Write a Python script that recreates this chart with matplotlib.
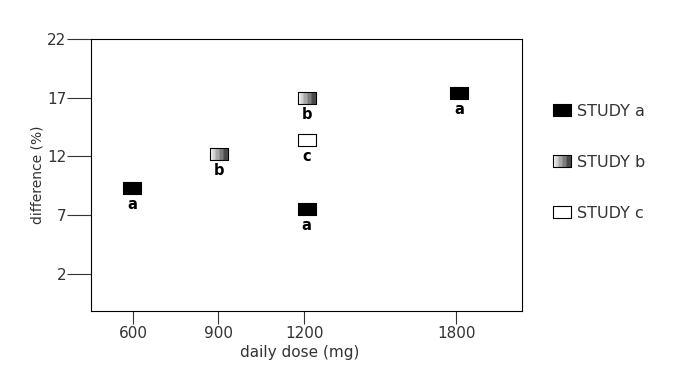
import numpy as np
import matplotlib
matplotlib.use("Agg")
import matplotlib.pyplot as plt
from matplotlib.path import Path
from matplotlib.legend_handler import HandlerTuple

plt.rcParams['font.family'] = ['DejaVu Sans']

# data
study_a_dose = [598, 1210, 1812]
study_a_diff = [9.3, 7.5, 17.4]
study_b_dose = [903, 1210]
study_b_diff = [12.2, 17.0]
study_c_dose = [1210]
study_c_diff = [13.4]

x_ticks = [600, 900, 1200, 1800]
y_ticks = [2, 7, 12, 17, 22]

# the dose axis in the original is not evenly spaced: piecewise linear scale
scale_dose = [300, 600, 900, 1200, 1800, 2400]
scale_pos = [48, 133, 218, 304, 456, 608]


def fwd(x):
    return np.interp(x, scale_dose, scale_pos)


def inv(p):
    return np.interp(p, scale_pos, scale_dose)


W, H = 1.0, 0.68


def rect_marker(x_right=W):
    verts = [(-W, -H), (x_right, -H), (x_right, H), (-W, H), (-W, -H)]
    codes = [Path.MOVETO, Path.LINETO, Path.LINETO, Path.LINETO, Path.CLOSEPOLY]
    return Path(verts, codes)


# grey shading layers for study b, dark on the right to light on the left
b_layers = [(W, '#4a4a4a'), (0.45, '#7d7d7d'), (0.0, '#a8a8a8'), (-0.45, '#d2d2d2'), (-0.75, '#f4f4f4')]

fig = plt.figure(figsize=(6.9, 3.66), dpi=100)
ax = fig.add_axes([0.132, 0.150, 0.625, 0.743])
ax.set_xscale('function', functions=(fwd, inv))

ms = 13.5
a_line, = ax.plot(study_a_dose, study_a_diff, ls='none', marker=rect_marker(), ms=ms,
                  mfc='black', mec='black', mew=0.8)

b_handles = []
for xr, col in b_layers:
    h, = ax.plot(study_b_dose, study_b_diff, ls='none', marker=rect_marker(xr), ms=ms,
                 mfc=col, mec='none')
    b_handles.append(h)
b_edge, = ax.plot(study_b_dose, study_b_diff, ls='none', marker=rect_marker(), ms=ms,
                  mfc='none', mec='black', mew=0.8)
b_handles.append(b_edge)

c_line, = ax.plot(study_c_dose, study_c_diff, ls='none', marker=rect_marker(), ms=ms,
                  mfc='white', mec='black', mew=0.8)

for doses, diffs, lab in [(study_a_dose, study_a_diff, 'a'),
                          (study_b_dose, study_b_diff, 'b'),
                          (study_c_dose, study_c_diff, 'c')]:
    for d, v in zip(doses, diffs):
        ax.annotate(lab, (d, v), xytext=(0, -12), textcoords='offset points',
                    ha='center', va='center', fontsize=10.5, fontweight='bold')

ax.set_xlim(452, 2060)
ax.set_ylim(-1.2, 22)
ax.set_xticks(x_ticks)
ax.set_xticklabels([str(t) for t in x_ticks])
ax.xaxis.set_minor_locator(matplotlib.ticker.NullLocator())
ax.set_yticks(y_ticks)
ax.tick_params(axis='y', length=17, width=0.8, labelsize=11, pad=1, colors='#333333')
ax.tick_params(axis='x', length=9, width=0.8, labelsize=11, pad=2, colors='#333333')
for sp in ax.spines.values():
    sp.set_linewidth(0.8)
ax.set_xlabel('daily dose (mg)', fontsize=11, color='#333333', labelpad=2)
ax.xaxis.set_label_coords(0.484, -0.125)
ax.set_ylabel('difference (%)', fontsize=10, color='#333333', labelpad=2)

leg = fig.legend([a_line, tuple(b_handles), c_line], ['STUDY a', 'STUDY b', 'STUDY c'],
                 handler_map={tuple: HandlerTuple(ndivide=1, pad=0)},
                 loc='upper left', bbox_to_anchor=(0.801, 0.716), frameon=False,
                 fontsize=11.5, labelspacing=2.25, handlelength=1.2, handletextpad=0.3,
                 borderpad=0, borderaxespad=0, markerscale=1.0)
for t in leg.get_texts():
    t.set_color('#333333')

fig.savefig('out.png', dpi=100)
